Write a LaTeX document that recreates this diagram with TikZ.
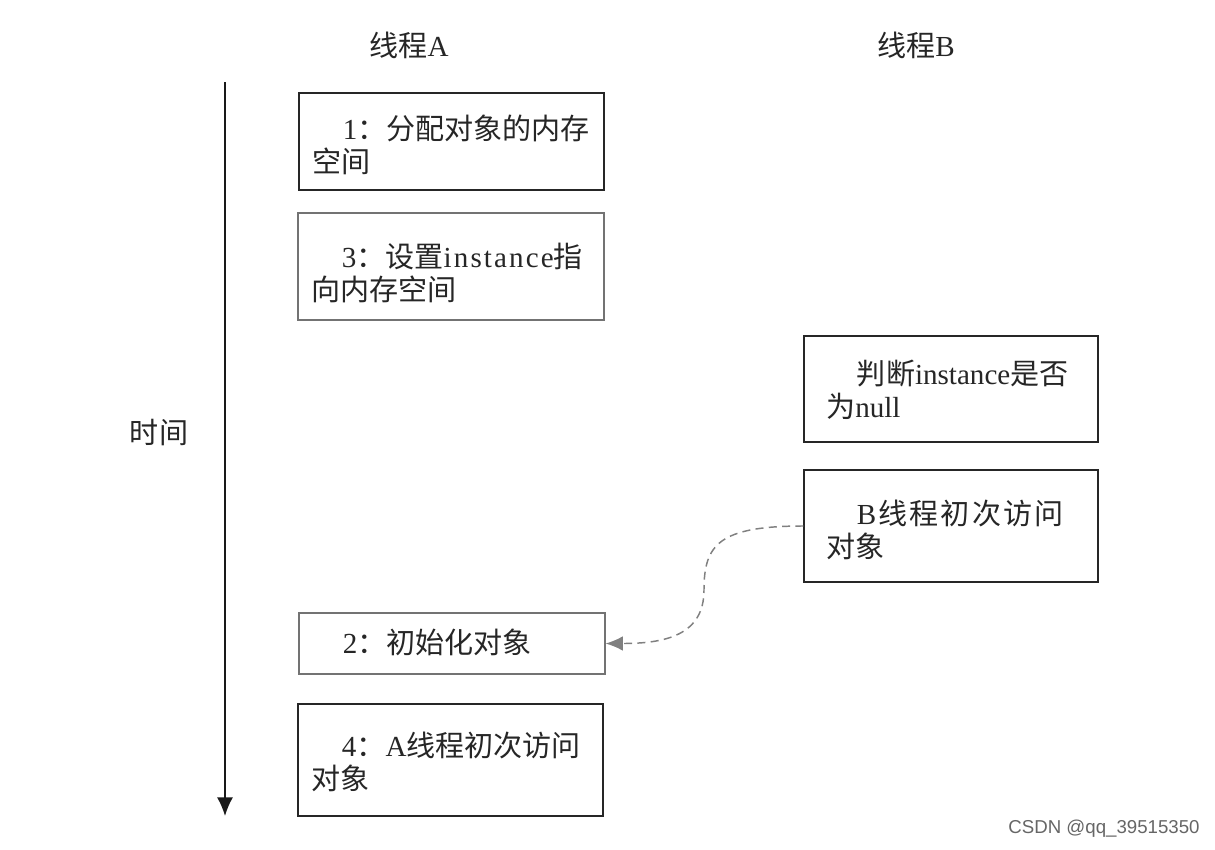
\documentclass[tikz,border=0pt]{standalone}
\usepackage{fontspec}
\setmainfont{Liberation Serif}
\newfontfamily\cjk{Noto Sans CJK SC}
\newfontfamily\wmfont{Liberation Sans}
\usetikzlibrary{arrows.meta}
\newcommand\lsp{\kern1.6pt}
\begin{document}
\begin{tikzpicture}[x=0.75pt,y=-0.75pt,
  box/.style={draw=black!85,line width=0.9pt,inner sep=0pt,fill=white},
  lightbox/.style={box,draw=black!55},
  txt/.style={anchor=west,align=left,inner sep=0pt,font=\fontsize{21.8}{25}\selectfont,text=black!85},
  lbl/.style={inner sep=0pt,font=\fontsize{21.8}{25}\selectfont,text=black!85},
  axis/.style={line width=1.1pt,black!90,-{Latex[length=14pt,width=12pt]}},
  dep/.style={draw=black!50,line width=1.1pt,dash pattern=on 6pt off 4pt,-{Latex[length=13pt,width=11pt]}}
]
\useasboundingbox[fill=white] (0,0) rectangle (1215,850);

% axis and labels
\coordinate (t0) at (225,82);
\coordinate (t1) at (225,816);
\draw[axis] (t0) -- (t1);
\node[lbl] (la) at (409,45) {{\cjk 线程}A};
\node[lbl] (lb) at (916,45) {{\cjk 线程}B};
\node[lbl] (lt) at (159,433) {\cjk 时间};

% boxes
\node[box,minimum width={305*0.75},minimum height={97*0.75}] (a1) at (451.5,141.5) {};
\node[lightbox,minimum width={306*0.75},minimum height={107*0.75}] (a3) at (451,266.5) {};
\node[box,minimum width={294*0.75},minimum height={106*0.75}] (bj) at (951,389) {};
\node[box,minimum width={294*0.75},minimum height={112*0.75}] (bb) at (951,526) {};
\node[lightbox,minimum width={306*0.75},minimum height={61*0.75}] (a2) at (452,643.5) {};
\node[box,minimum width={305*0.75},minimum height={112*0.75}] (a4) at (450.5,760) {};

% texts
\node[txt] (ta1) at (312,145) {\hspace*{23pt}1{\cjk ：分配对象的内存}\\{\cjk 空间}};
\node[txt] (ta3) at (311,273) {\hspace*{23pt}3{\cjk ：设置}i\lsp n\lsp s\lsp t\lsp a\lsp n\lsp c\lsp e{\cjk 指}\\{\cjk 向内存空间}};
\node[txt] (tbj) at (826,390) {\hspace*{23pt}{\cjk 判断}instance{\cjk 是否}\\{\cjk 为}null};
\node[txt] (tbb) at (826,530) {\hspace*{23pt}B{\cjk \lsp 线\lsp 程\lsp 初\lsp 次\lsp 访\lsp 问}\\{\cjk 对象}};
\node[txt] (ta2) at (312,642) {\hspace*{23pt}2{\cjk ：初始化对象}};
\node[txt] (ta4) at (311,762) {\hspace*{23pt}4{\cjk ：}A{\cjk 线程初次访问}\\{\cjk 对象}};

% dashed connector
\coordinate (mid) at (704,590);
\draw[dep] (bb.west) .. controls +(-85,0) and +(0,-45) .. (mid)
  .. controls +(0,45) and +(60,0) .. (a2.east);

% watermark
\node[inner sep=0pt,font=\wmfont\fontsize{14}{16}\selectfont,text=black!60] (wm) at (1104,829) {CSDN @qq\_39515350};
\end{tikzpicture}
\end{document}
